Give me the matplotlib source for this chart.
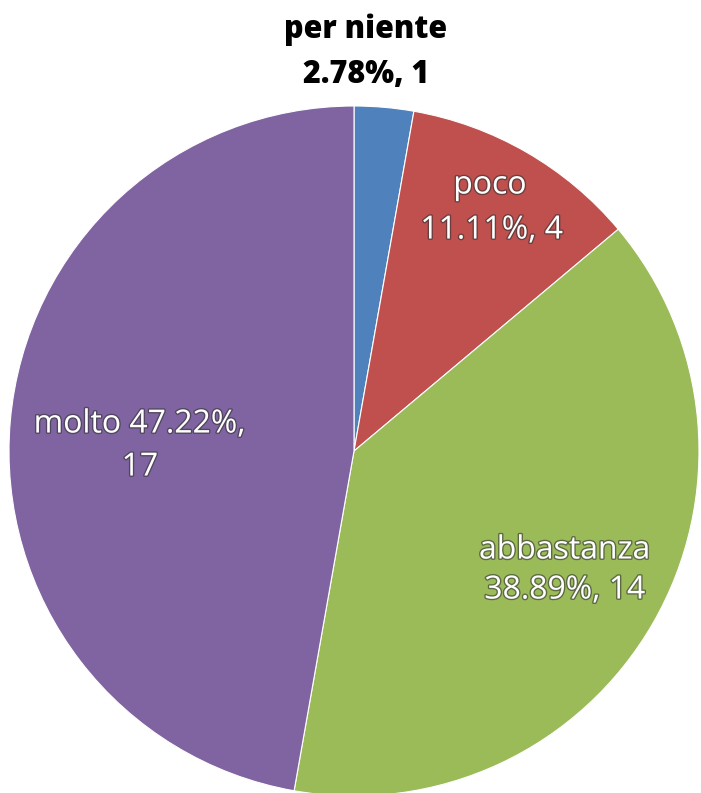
import matplotlib.pyplot as plt
import matplotlib.patheffects as pe

categorie = ['per niente', 'poco', 'abbastanza', 'molto']
conteggi = [1, 4, 14, 17]
colori = ['#4F81BD', '#C0504D', '#9BBB59', '#8064A2']

totale = sum(conteggi)
perc = [100 * c / totale for c in conteggi]

fig = plt.figure(figsize=(7.01, 7.93), dpi=100)
ax = fig.add_axes([0, 0, 1, 1])

# pie in pixel coordinates (y axis flipped -> counterclock=True draws clockwise on screen)
ax.pie(conteggi, colors=colori, startangle=-90, counterclock=True,
       center=(354, 451), radius=345, frame=True,
       wedgeprops=dict(edgecolor='white', linewidth=0.8))
ax.set_xlim(0, 701)
ax.set_ylim(793, 0)
ax.axis('off')

ombra = [pe.withStroke(linewidth=2, foreground='#333333', alpha=0.6)]
font = ['Open Sans', 'DejaVu Sans']
fs = 23

# per niente, sopra la torta
ax.text(366, 30, categorie[0], ha='center', va='center', fontsize=22,
        fontweight='heavy', family=font, color='black')
ax.text(366, 75, f'{perc[0]:.2f}%, {conteggi[0]}', ha='center', va='center',
        fontsize=22, fontweight='heavy', family=font, color='black')

# poco
ax.text(490, 185, categorie[1], ha='center', va='center', fontsize=fs,
        family=font, color='white', path_effects=ombra)
ax.text(492, 230, f'{perc[1]:.2f}%, {conteggi[1]}', ha='center', va='center',
        fontsize=fs, family=font, color='white', path_effects=ombra)

# abbastanza
ax.text(565, 550, categorie[2], ha='center', va='center', fontsize=fs,
        family=font, color='white', path_effects=ombra)
ax.text(565, 590, f'{perc[2]:.2f}%, {conteggi[2]}', ha='center', va='center',
        fontsize=fs, family=font, color='white', path_effects=ombra)

# molto
ax.text(140, 424, f'{categorie[3]} {perc[3]:.2f}%,', ha='center', va='center',
        fontsize=fs, family=font, color='white', path_effects=ombra)
ax.text(140, 467, f'{conteggi[3]}', ha='center', va='center', fontsize=fs,
        family=font, color='white', path_effects=ombra)

fig.savefig('out.png', dpi=100)
